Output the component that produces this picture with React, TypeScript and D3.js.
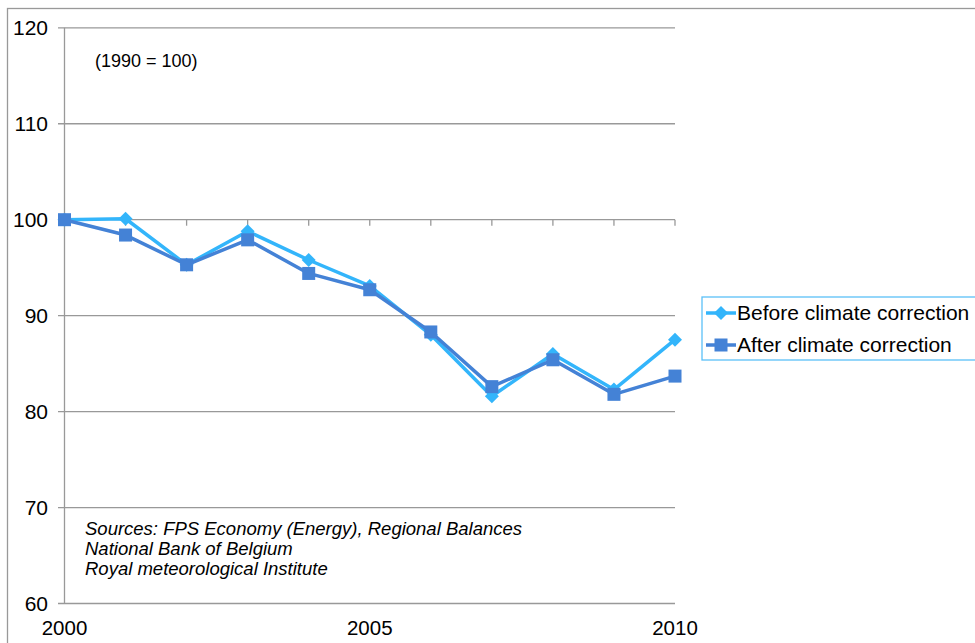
import React from "react";
import * as d3 from "d3";

const years = [2000, 2001, 2002, 2003, 2004, 2005, 2006, 2007, 2008, 2009, 2010];
const beforeValues = [100, 100.1, 95.3, 98.8, 95.8, 93.1, 88.0, 81.6, 86.0, 82.3, 87.5];
const afterValues = [100, 98.4, 95.3, 97.9, 94.4, 92.7, 88.3, 82.6, 85.4, 81.8, 83.7];
const yTicks = [60, 70, 80, 90, 100, 110, 120];
const xLabels = [2000, 2005, 2010];
const seriesNames = ["Before climate correction", "After climate correction"];
const colors = ["#33B5FB", "#4482D6"];
const note = "(1990 = 100)";
const sources = [
  "Sources: FPS Economy (Energy), Regional Balances",
  "National Bank of Belgium",
  "Royal meteorological Institute",
];

export default function App() {
  const W = 975, H = 643;
  const x = d3.scaleLinear().domain([2000, 2010]).range([64.5, 675]);
  const y = d3.scaleLinear().domain([60, 120]).range([603.5, 27.8]);
  const line = d3
    .line<number>()
    .x((_, i) => x(years[i]))
    .y((d) => y(d));
  const font = "Arial, 'Liberation Sans', sans-serif";
  const grid = "#999999";
  const diamond = (cx: number, cy: number, r: number) =>
    `M${cx},${cy - r}L${cx + r},${cy}L${cx},${cy + r}L${cx - r},${cy}Z`;
  return (
    <svg
      width={W}
      height={H}
      style={{ position: "absolute", left: 0, top: 0, background: "#fff" }}
      fontFamily={font}
    >
      <rect x={7.5} y={8.5} width={1000} height={700} fill="none" stroke={grid} strokeWidth={1.3} />
      {yTicks.map((t) => (
        <g key={t}>
          <line x1={58} x2={675} y1={y(t)} y2={y(t)} stroke={grid} strokeWidth={1.3} />
          <text x={48} y={y(t)} dy="0.35em" textAnchor="end" fontSize={21} fill="#000">
            {t}
          </text>
        </g>
      ))}
      <line x1={x(2000)} x2={x(2000)} y1={y(120)} y2={y(60)} stroke={grid} strokeWidth={1.3} />
      {years.map((yr) => (
        <line key={yr} x1={x(yr)} x2={x(yr)} y1={y(100)} y2={y(100) + 6} stroke={grid} strokeWidth={1.3} />
      ))}
      {xLabels.map((l) => (
        <text key={l} x={x(l)} y={635} textAnchor="middle" fontSize={20.5} fill="#000">
          {l}
        </text>
      ))}
      <text x={95} y={67} fontSize={18} fill="#000">
        {note}
      </text>
      {sources.map((s, i) => (
        <text key={i} x={85} y={535 + i * 20} fontSize={18.5} fontStyle="italic" fill="#000">
          {s}
        </text>
      ))}
      <path d={line(beforeValues) || ""} fill="none" stroke={colors[0]} strokeWidth={3.5} strokeLinejoin="round" />
      {beforeValues.map((v, i) => (
        <path key={i} d={diamond(x(years[i]), y(v), 7)} fill={colors[0]} />
      ))}
      <path d={line(afterValues) || ""} fill="none" stroke={colors[1]} strokeWidth={3.5} strokeLinejoin="round" />
      {afterValues.map((v, i) => (
        <rect key={i} x={x(years[i]) - 6.5} y={y(v) - 6.5} width={13} height={13} fill={colors[1]} />
      ))}
      <rect x={702} y={297} width={300} height={63} fill="#fff" stroke="#5BC0F8" strokeWidth={1.3} />
      {seriesNames.map((n, i) => {
        const cy = 313 + i * 32;
        return (
          <g key={n}>
            <line x1={706} x2={736} y1={cy} y2={cy} stroke={colors[i]} strokeWidth={3.5} />
            {i === 0 ? (
              <path d={diamond(721, cy, 7)} fill={colors[0]} />
            ) : (
              <rect x={714.5} y={cy - 6.5} width={13} height={13} fill={colors[1]} />
            )}
            <text x={737} y={cy} dy="0.35em" fontSize={21} fill="#000">
              {n}
            </text>
          </g>
        );
      })}
    </svg>
  );
}
